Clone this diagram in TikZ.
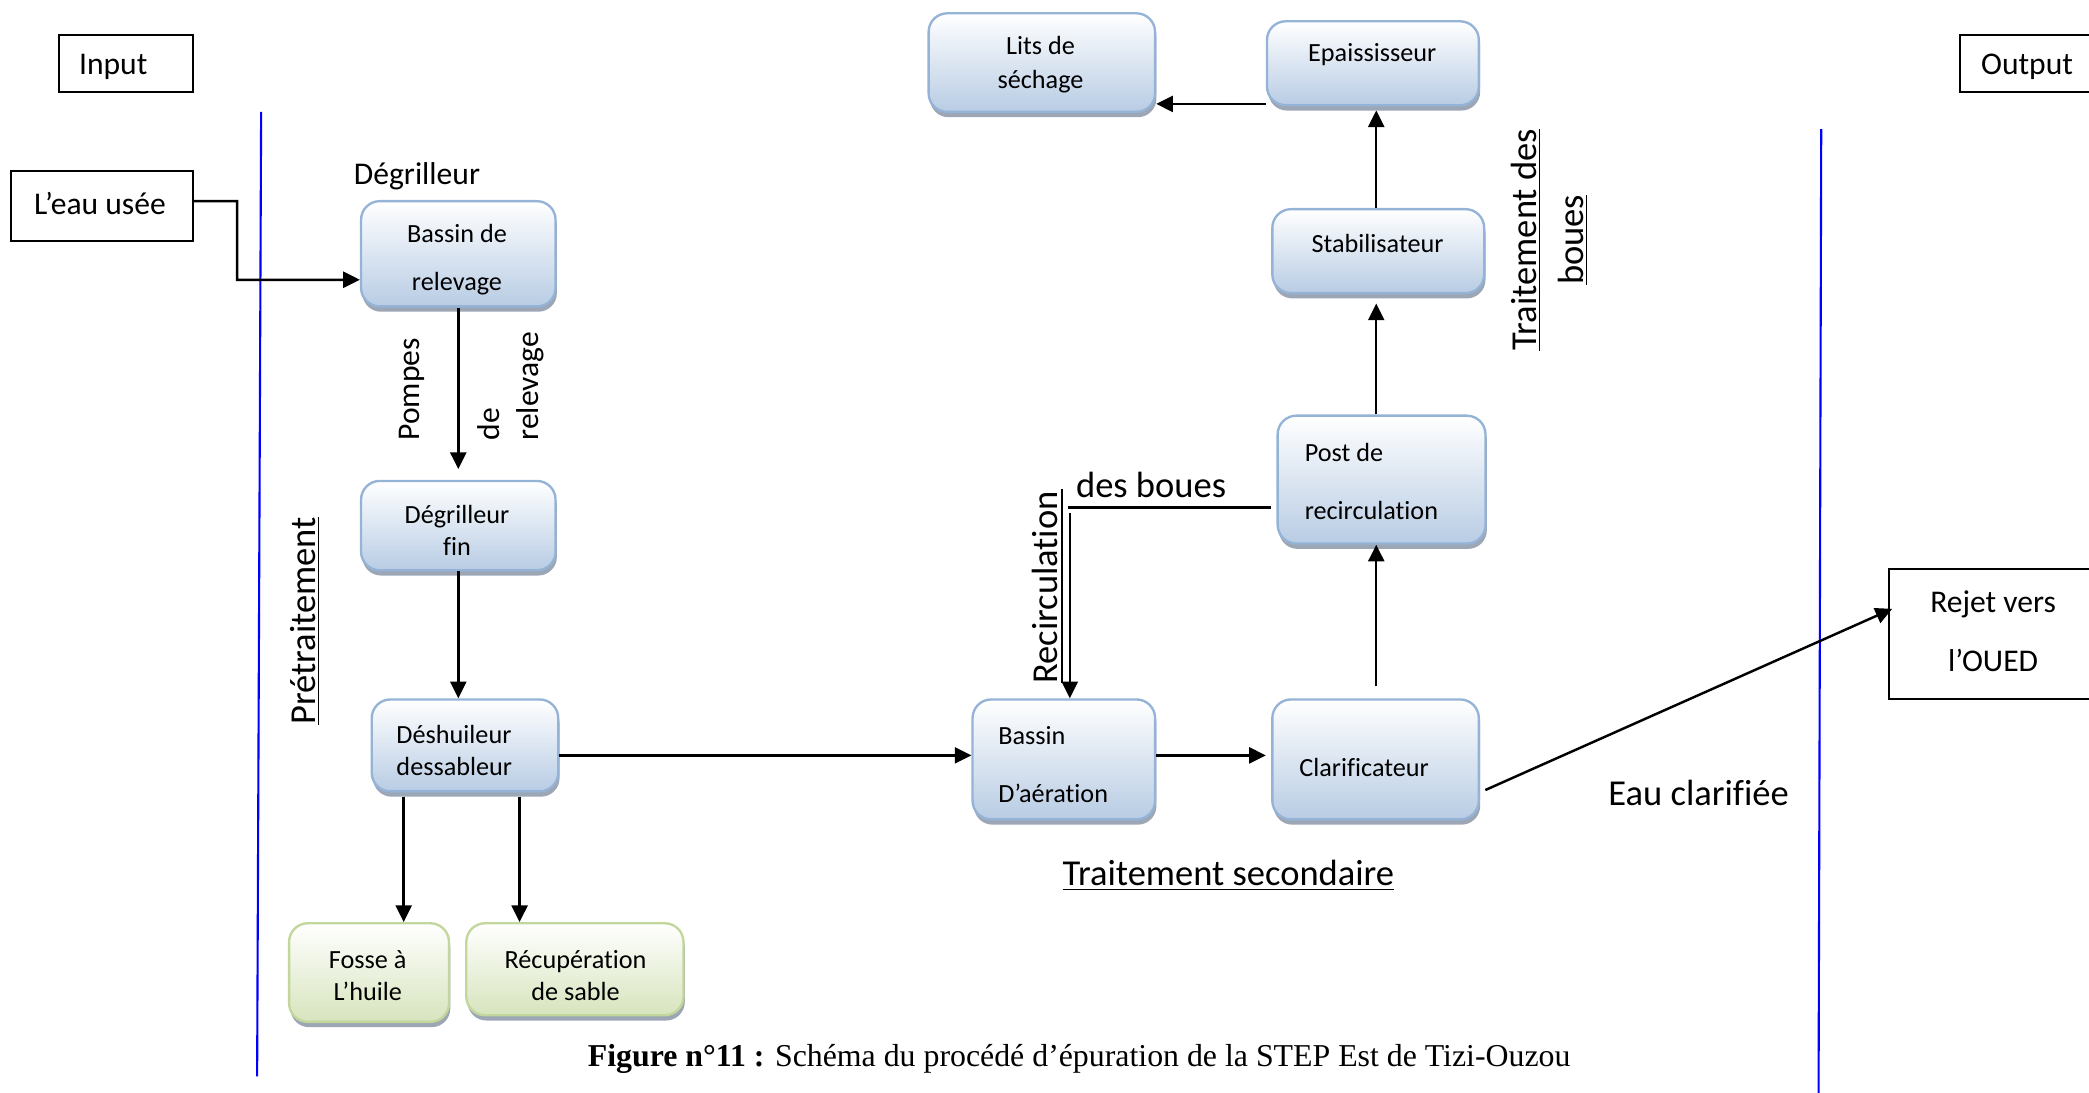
\documentclass[tikz,border=0pt]{standalone}
\usepackage{fontspec}
\setmainfont{Carlito}[Ligatures=NoCommon]
\newfontfamily\capfont{Liberation Serif}
\usetikzlibrary{arrows.meta,shadows,calc}
\definecolor{boxborder}{HTML}{95B3D7}
\definecolor{boxfill}{HTML}{B8CCE4}
\definecolor{shadowc}{HTML}{9CA6B5}
\definecolor{gborder}{HTML}{C3D69B}
\definecolor{gfill}{HTML}{D7E4BD}
\tikzset{
  sz/.style 2 args={minimum width=#1*0.02cm, minimum height=#2*0.02cm},
  bluebox/.style={draw=boxborder, line width=1pt, rounded corners=0.28cm, top color=white, bottom color=boxfill, inner sep=0pt,
    drop shadow={shadow xshift=0.02cm, shadow yshift=-0.08cm, fill=shadowc, opacity=1}},
  greenbox/.style={bluebox, draw=gborder, bottom color=gfill},
  plainbox/.style={draw=black, line width=0.85pt, inner sep=0pt},
  boxtxt/.style={inner sep=0pt, font=\fontsize{11.2pt}{13.7pt}\selectfont, align=center},
  lbl/.style={inner sep=0pt, font=\fontsize{13.5pt}{16.4pt}\selectfont, align=center},
  biglbl/.style={inner sep=0pt, font=\fontsize{15.6pt}{19pt}\selectfont, align=center},
  arr/.style={draw, line width=1.05pt, -{Triangle[length=0.25cm,width=0.24cm]}},
  conn/.style={draw, line width=1.05pt},
  sepline/.style={draw=blue, line width=0.9pt},
}
\begin{document}
\begin{tikzpicture}[x=0.02cm,y=-0.02cm]
\useasboundingbox (0,0) rectangle (1568,820);
% separators
\coordinate (bl1) at (196,84); \coordinate (bl2) at (193,808);
\coordinate (br1) at (1367,97); \coordinate (br2) at (1365,822);
\draw[sepline] (bl1) -- (bl2);
\draw[sepline] (br1) -- (br2);
% plain boxes
\node[plainbox, sz={101}{43}] (input) at (94.5,47.5) {};
\node[plainbox, sz={120}{43}] (output) at (1531,47.5) {};
\node[plainbox, sz={137}{53}] (leau) at (76.5,154.5) {};
\node[plainbox, sz={180}{98}] (rejet) at (1508,476) {};
% rounded boxes
\node[bluebox, sz={146}{79}] (bassin) at (344,190.5) {};
\node[bluebox, sz={146}{67}] (degfin) at (344,394.5) {};
\node[bluebox, sz={140}{69}] (deshuil) at (349,559.5) {};
\node[greenbox, sz={120}{74}] (fosse) at (277,730) {};
\node[greenbox, sz={163}{69}] (recup) at (431.5,727.5) {};
\node[bluebox, sz={137}{90}] (aeration) at (798.5,570) {};
\node[bluebox, sz={155}{90}] (clarif) at (1032.5,570) {};
\node[bluebox, sz={156}{96}] (postrec) at (1037,360) {};
\node[bluebox, sz={159}{63}] (stab) at (1034.5,188.5) {};
\node[bluebox, sz={159}{63}] (epais) at (1030.5,47.5) {};
\node[bluebox, sz={170}{74}] (lits) at (782,47) {};
% texts
\node[lbl] (input-t) at (85,50) {Input};
\node[lbl] (output-t) at (1521.5,50) {Output};
\node[lbl] (leau-t) at (75,153) {L’eau usée};
\node[lbl] (degr-t) at (313,132) {Dégrilleur};
\node[lbl, rotate=90, anchor=west] (pompes) at (309,331) {Pompes};
\node[lbl, rotate=90, anchor=west] (de) at (367,331) {de};
\node[lbl, rotate=90, anchor=west] (relev) at (398,331) {relevage};
\node[biglbl, rotate=90] (pretr) at (229,466) {\underline{Prétraitement}};
\node[biglbl, rotate=90] (recirc) at (784,441) {Recirculation};
\node[biglbl] (desboues) at (864,364) {des boues};
\node[biglbl, rotate=90] (tdb) at (1163,180) {\underline{Traitement des}\\[1pt]\underline{boues}};
\node[biglbl] (tsec) at (922,657) {\underline{Traitement secondaire}};
\node[biglbl] (eauc) at (1275,595) {Eau clarifiée};
\node[inner sep=0pt, font=\capfont\fontsize{13.6pt}{16pt}\selectfont] (caption) at (810,795) {\textbf{Figure n°11 :} Schéma du procédé d’épuration de la STEP Est de Tizi-Ouzou};
\node[boxtxt] (bassin-t) at (343,195) {Bassin de\\[6.8pt]relevage};
\node[boxtxt] (degfin-t) at (343,398) {Dégrilleur\\fin};
\node[boxtxt, align=left] (deshuil-t) at (341,563) {Déshuileur\\dessableur};
\node[boxtxt] (fosse-t) at (276,732) {Fosse à\\L’huile};
\node[boxtxt] (recup-t) at (432,732) {Récupération\\de sable};
\node[boxtxt, align=left, anchor=west] (aeration-t) at (749,574) {Bassin\\[11.3pt]D’aération};
\node[boxtxt, anchor=west] (clarif-t) at (975,576) {Clarificateur};
\node[boxtxt, align=left, anchor=west] (postrec-t) at (979,361.5) {Post de\\[10.8pt]recirculation};
\node[boxtxt] (stab-t) at (1034,183) {Stabilisateur};
\node[boxtxt] (epais-t) at (1030,41) {Epaississeur};
\node[boxtxt] (lits-t) at (781,48.5) {Lits de\\[0.5pt]séchage};
\node[lbl] (rejet-t) at (1496,474) {Rejet vers\\[8.7pt]l’OUED};
% connectors
\draw[arr] ($(leau.east)+(0,-3.5)$) -| (178,210) -- ($(bassin.west)+(0,19.5)$);
\draw[arr, shorten >=0.16cm] (bassin.south) -- (degfin.north);
\draw[arr] (degfin.south) -- (degfin.south |- deshuil.north);
\coordinate (d1) at ($(deshuil.south)+(-46,3)$);
\draw[arr] (d1) -- (d1 |- fosse.north);
\coordinate (d2) at ($(deshuil.south)+(41,3)$);
\draw[arr] (d2) -- (d2 |- recup.north);
\coordinate (d3) at ($(deshuil.east)+(0,7.5)$);
\draw[arr] (d3) -- (d3 -| aeration.west);
\coordinate (a1) at ($(aeration.east)+(0,-3)$);
\draw[arr, shorten >=0.08cm] (a1) -- (a1 -| clarif.west);
\coordinate (c1) at ($(clarif.north)+(0.5,0)$);
\draw[arr, shorten <=0.18cm] (c1) -- (c1 |- postrec.south);
\coordinate (p1) at ($(postrec.north)+(-4,0)$);
\draw[arr, shorten >=0.14cm] (p1) -- (p1 |- stab.south);
\coordinate (s1) at ($(stab.north)+(-1.5,0)$);
\draw[arr, shorten >=0.06cm] (s1) -- (s1 |- epais.south);
\coordinate (e1) at ($(epais.west)+(0,30.5)$);
\draw[arr] (e1) -- (e1 -| lits.east);
\coordinate (r1) at ($(postrec.west)+(-4,21)$);
\coordinate (r2) at (802,381);
\draw[conn] (r1) -- (r2);
\coordinate (r3) at (797,367); \coordinate (r4) at (797,513);
\draw[conn] (r3) -- (r4);
\coordinate (r5) at (803,385);
\draw[arr] (r5) -- (r5 |- aeration.north);
\coordinate (k1) at ($(clarif.east)+(4,23)$);
\coordinate (k2) at ($(rejet.west)+(3,-19)$);
\draw[arr] (k1) -- (k2);
\end{tikzpicture}
\end{document}
